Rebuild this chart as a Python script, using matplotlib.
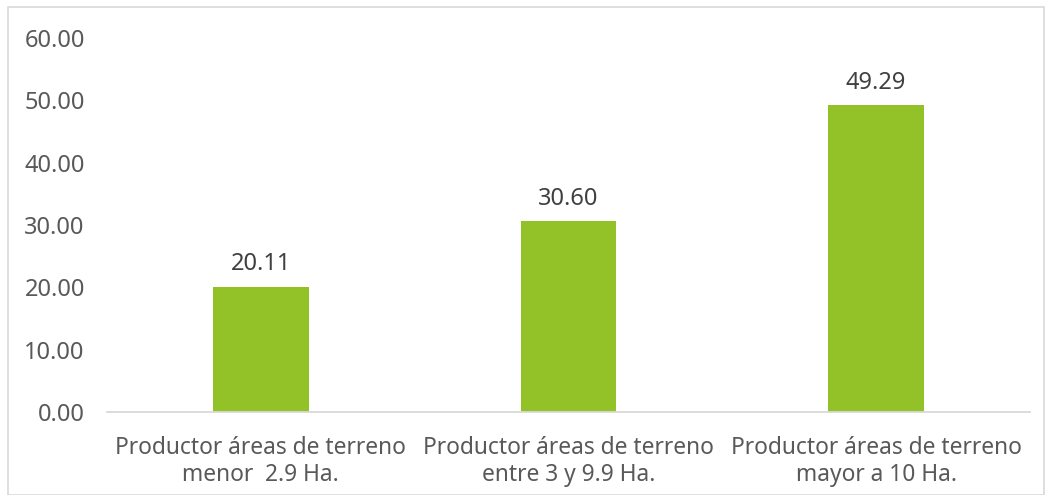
import matplotlib
matplotlib.use("Agg")
import matplotlib.pyplot as plt
from matplotlib.patches import Rectangle

categorias = ["Productor áreas de terreno\nmenor  2.9 Ha.",
              "Productor áreas de terreno\nentre 3 y 9.9 Ha.",
              "Productor áreas de terreno\nmayor a 10 Ha."]
valores = [20.11, 30.60, 49.29]
yticks = [0, 10, 20, 30, 40, 50, 60]

VERDE = "#92C228"
GRIS = "#595959"
plt.rcParams["font.family"] = ["Noto Sans", "DejaVu Sans"]
FS = 17

fig = plt.figure(figsize=(10.52, 4.95), dpi=100)
ax = fig.add_axes([107 / 1052, 83 / 495, 923 / 1052, 374 / 495])

x = range(len(valores))
ax.bar(x, valores, width=0.31, color=VERDE)
for xi, v in zip(x, valores):
    ax.text(xi, v + 2.6, f"{v:.2f}", ha="center", va="baseline", fontsize=FS, color="#404040")

ax.set_xlim(-0.5, len(valores) - 0.5)
ax.set_ylim(0, 60)
ax.set_yticks(yticks)
ax.set_yticklabels([f"{t:.2f}" for t in yticks])
ax.set_xticks(list(x))
ax.set_xticklabels(categorias, linespacing=1.2, fontsize=16.4)

for s in ["top", "right", "left"]:
    ax.spines[s].set_visible(False)
ax.spines["bottom"].set_color("#D9D9D9")
ax.spines["bottom"].set_linewidth(1.3)
ax.tick_params(axis="y", length=0, labelsize=FS, colors=GRIS, pad=16)
ax.tick_params(axis="x", length=0, colors=GRIS, pad=17)

# borde del grafico
fig.patches.append(Rectangle((8 / 1052, 0), 1036 / 1052, 488 / 495, transform=fig.transFigure,
                             fill=False, edgecolor="#D9D9D9", linewidth=1.2))

fig.savefig("out.png", dpi=100)
